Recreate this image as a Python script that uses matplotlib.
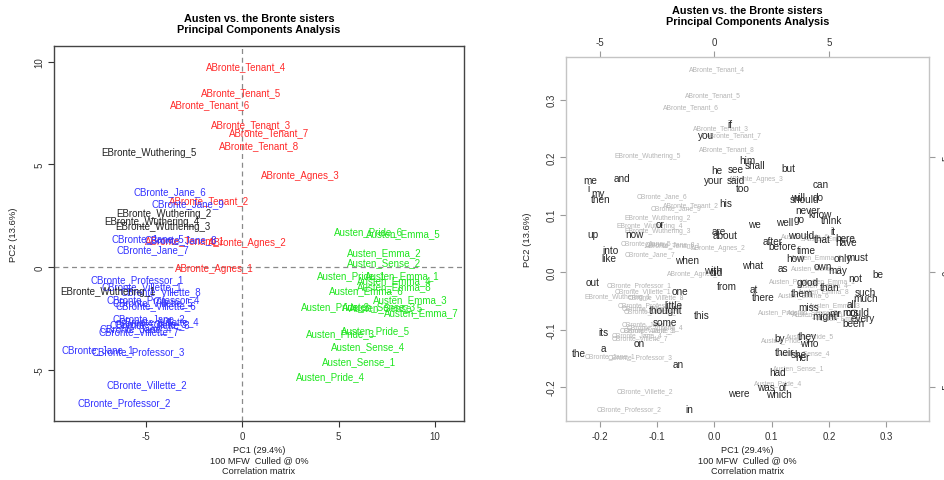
import matplotlib
matplotlib.use("Agg")
import matplotlib.pyplot as plt

plt.rcParams['font.family'] = ['Liberation Sans', 'DejaVu Sans']
plt.rcParams['axes.unicode_minus'] = False

# ---- principal component scores for each text sample ----
samples = [
    "ABronte_Tenant_1", "ABronte_Tenant_2", "ABronte_Tenant_3", "ABronte_Tenant_4",
    "ABronte_Tenant_5", "ABronte_Tenant_6", "ABronte_Tenant_7", "ABronte_Tenant_8",
    "ABronte_Agnes_1", "ABronte_Agnes_2", "ABronte_Agnes_3",
    "Austen_Emma_1", "Austen_Emma_2", "Austen_Emma_3", "Austen_Emma_4",
    "Austen_Emma_5", "Austen_Emma_6", "Austen_Emma_7", "Austen_Emma_8",
    "Austen_Pride_1", "Austen_Pride_2", "Austen_Pride_3", "Austen_Pride_4",
    "Austen_Pride_5", "Austen_Pride_6",
    "Austen_Sense_1", "Austen_Sense_2", "Austen_Sense_3", "Austen_Sense_4", "Austen_Sense_5",
    "CBronte_Jane_1", "CBronte_Jane_2", "CBronte_Jane_3", "CBronte_Jane_4", "CBronte_Jane_5",
    "CBronte_Jane_6", "CBronte_Jane_7", "CBronte_Jane_8", "CBronte_Jane_9",
    "CBronte_Professor_1", "CBronte_Professor_2", "CBronte_Professor_3", "CBronte_Professor_4",
    "CBronte_Villette_1", "CBronte_Villette_2", "CBronte_Villette_3", "CBronte_Villette_4",
    "CBronte_Villette_5", "CBronte_Villette_6", "CBronte_Villette_7", "CBronte_Villette_8",
    "EBronte_Wuthering_1", "EBronte_Wuthering_2", "EBronte_Wuthering_3",
    "EBronte_Wuthering_4", "EBronte_Wuthering_5",
]
pc1 = [
    -2.97, -1.71, 0.47, 0.18, -0.08, -1.66, 1.40, 0.87,
    -1.43, 0.26, 3.03,
    8.30, 7.37, 8.70, 7.86, 8.36, 6.46, 9.26, 7.87,
    5.68, 4.85, 5.11, 4.59, 6.90, 6.54,
    6.06, 7.37, 7.10, 6.54, 7.45,
    -7.50, -4.84, -4.75, -5.55, -4.91, -3.75, -4.63, -3.18, -2.80,
    -5.46, -6.14, -5.39, -4.62,
    -5.19, -4.98, -4.79, -4.32, -4.63, -4.49, -5.36, -4.22,
    -6.95, -4.08, -4.12, -4.69, -4.83,
]
pc2 = [
    1.33, 3.25, 6.96, 9.80, 8.53, 7.95, 6.60, 5.94,
    -0.05, 1.20, 4.49,
    -0.42, 0.72, -1.59, -0.63, 1.64, -1.11, -2.18, -0.91,
    -0.39, -1.89, -3.24, -5.34, -3.06, 1.77,
    -4.59, 0.23, -1.92, -3.87, -1.98,
    -4.00, -2.50, -2.76, -3.00, 1.40, 3.68, 0.88, 1.37, 3.11,
    -0.59, -6.57, -4.08, -1.56,
    -0.91, -5.71, -2.78, -2.62, -1.72, -1.85, -3.14, -1.19,
    -1.19, 2.63, 2.01, 2.24, 5.61,
]

author_colours = {
    "ABronte": "#ff2a2a",
    "Austen": "#1fe61f",
    "CBronte": "#3333ff",
    "EBronte": "#222222",
}

# ---- word loadings (100 most frequent words) ----
words = [
    "if", "you", "he", "see", "him", "shall", "your", "said", "too",
    "me", "and", "i", "my", "then", "his", "up", "or", "now", "are", "about",
    "into", "like", "when", "we", "what", "with", "did", "but", "can",
    "will", "should", "do", "never", "know", "go", "well", "think", "would",
    "it", "after", "that", "have", "here", "before", "time", "how", "only",
    "must", "as", "own", "may", "not", "be", "good", "than", "at", "there",
    "them", "such", "much", "miss", "all", "might", "mr", "mrs", "could",
    "every", "been", "by", "they", "who", "their", "she", "her", "had",
    "was", "of", "which", "were", "out", "from", "one", "little", "thought",
    "this", "some", "its", "on", "a", "the", "an", "in",
]
load1 = [
    0.027, -0.015, 0.005, 0.038, 0.057, 0.071, -0.002, 0.038, 0.050,
    -0.217, -0.161, -0.219, -0.203, -0.198, 0.020, -0.212, -0.095, -0.139, 0.008, 0.018,
    -0.182, -0.184, -0.048, 0.069, 0.066, -0.002, 0.003, 0.130, 0.186,
    0.146, 0.158, 0.181, 0.163, 0.184, 0.148, 0.123, 0.205, 0.151,
    0.207, 0.101, 0.188, 0.230, 0.228, 0.118, 0.160, 0.141, 0.224,
    0.249, 0.120, 0.190, 0.216, 0.245, 0.285, 0.163, 0.202, 0.069, 0.085,
    0.153, 0.264, 0.263, 0.165, 0.240, 0.193, 0.210, 0.237, 0.249,
    0.259, 0.242, 0.113, 0.163, 0.165, 0.123, 0.148, 0.153, 0.111,
    0.090, 0.120, 0.113, 0.043, -0.212, 0.022, -0.060, -0.072, -0.085,
    -0.023, -0.086, -0.194, -0.132, -0.194, -0.236, -0.064, -0.043,
]
load2 = [
    0.257, 0.238, 0.177, 0.179, 0.195, 0.186, 0.161, 0.161, 0.147,
    0.161, 0.163, 0.147, 0.137, 0.127, 0.121, 0.067, 0.083, 0.067, 0.071, 0.064,
    0.038, 0.024, 0.022, 0.083, 0.013, 0.003, 0.001, 0.181, 0.153,
    0.130, 0.127, 0.130, 0.109, 0.102, 0.093, 0.088, 0.090, 0.065,
    0.071, 0.055, 0.057, 0.053, 0.059, 0.045, 0.038, 0.025, 0.024,
    0.027, 0.008, 0.011, 0.004, -0.010, -0.003, -0.018, -0.025, -0.029, -0.043,
    -0.036, -0.034, -0.045, -0.060, -0.055, -0.076, -0.071, -0.069, -0.069,
    -0.079, -0.088, -0.114, -0.111, -0.123, -0.139, -0.142, -0.147, -0.174,
    -0.200, -0.200, -0.212, -0.210, -0.017, -0.024, -0.032, -0.058, -0.065,
    -0.074, -0.086, -0.104, -0.123, -0.132, -0.140, -0.160, -0.238,
]

# biplot scaling of the scores (per component) and ratio between the
# observation axes (top/right) and the loading axes (bottom/left)
biplot_scale = (0.605, 0.905)
axis_ratio = 25.0

title_text = "Austen vs. the Bronte sisters\nPrincipal Components Analysis"
xlab_text = "PC1 (29.4%)\n100 MFW  Culled @ 0%\nCorrelation matrix"
ylab_text = "PC2 (13.6%)"

fig = plt.figure(figsize=(9.44, 4.81), dpi=100)

# ================= left: PCA scatter with labels =================
axl = fig.add_axes([0.0572, 0.1227, 0.4343, 0.7796])
axl.set_xlim(-9.77, 11.5)
axl.set_ylim(-7.51, 10.78)
axl.axvline(0, color="#8a8a8a", lw=0.9, ls=(0, (4, 3)), zorder=1)
axl.axhline(0, color="#8a8a8a", lw=0.9, ls=(0, (4, 3)), zorder=1)
for name, x, y in zip(samples, pc1, pc2):
    col = author_colours[name.split("_")[0]]
    axl.text(x, y, name, color=col, fontsize=7, ha="center", va="center", zorder=3)

axl.set_xticks([-5, 0, 5, 10])
axl.set_yticks([-5, 0, 5, 10])
axl.set_yticklabels(["-5", "0", "5", "10"], rotation=90, va="center")
axl.tick_params(direction="out", length=4, width=0.8, labelsize=7,
                colors="#333333", pad=3)
for s in axl.spines.values():
    s.set_color("#444444")
    s.set_linewidth(1.0)
axl.set_title(title_text, fontsize=7.8, fontweight="bold", pad=10, linespacing=1.15)
axl.set_xlabel(xlab_text, fontsize=6.6, labelpad=3, linespacing=1.2, color="#222222")
axl.set_ylabel(ylab_text, fontsize=6.8, labelpad=12, color="#222222")

# ================= right: biplot =================
axr = fig.add_axes([0.5996, 0.1227, 0.3845, 0.7568])
lim = (-0.259, 0.3745)
axr.set_xlim(*lim)
axr.set_ylim(*lim)

for name, x, y in zip(samples, pc1, pc2):
    axr.text(x * biplot_scale[0] / axis_ratio, y * biplot_scale[1] / axis_ratio, name,
             color="#b4b4b4", fontsize=4.9, ha="center", va="center", zorder=2)
for w, x, y in zip(words, load1, load2):
    axr.text(x, y, w, color="#262626", fontsize=7.2, ha="center", va="center", zorder=3)

axr.set_xticks([-0.2, -0.1, 0.0, 0.1, 0.2, 0.3])
axr.set_xticklabels(["-0.2", "-0.1", "0.0", "0.1", "0.2", "0.3"])
axr.set_yticks([-0.2, -0.1, 0.0, 0.1, 0.2, 0.3])
axr.set_yticklabels(["-0.2", "-0.1", "0.0", "0.1", "0.2", "0.3"], rotation=90, va="center")
axr.tick_params(direction="out", length=4, width=0.8, labelsize=7,
                colors="#9a9a9a", labelcolor="#333333", pad=3)
for s in axr.spines.values():
    s.set_color("#c4c4c4")
    s.set_linewidth(1.0)

top = axr.secondary_xaxis("top", functions=(lambda v: v * axis_ratio, lambda v: v / axis_ratio))
top.set_xticks([-5, 0, 5])
top.set_xticklabels(["-5", "0", "5"])
top.tick_params(direction="out", length=4, width=0.8, labelsize=7,
                colors="#9a9a9a", labelcolor="#333333", pad=3)
right = axr.secondary_yaxis("right", functions=(lambda v: v * axis_ratio, lambda v: v / axis_ratio))
right.set_yticks([-5, 0, 5])
right.set_yticklabels(["-5", "0", "5"], rotation=90, va="center")
right.tick_params(direction="out", length=4, width=0.8, labelsize=7,
                  colors="#9a9a9a", labelcolor="#333333", pad=6)
for sec in (top, right):
    for s in sec.spines.values():
        s.set_visible(False)

fig.text(0.5996 + 0.3845 / 2, 0.988, title_text, fontsize=7.8, fontweight="bold",
         ha="center", va="top", linespacing=1.15)
axr.set_xlabel(xlab_text, fontsize=6.6, labelpad=3, linespacing=1.2, color="#222222")
axr.set_ylabel(ylab_text, fontsize=6.8, labelpad=10, color="#222222")

fig.savefig("out.png", dpi=100)
